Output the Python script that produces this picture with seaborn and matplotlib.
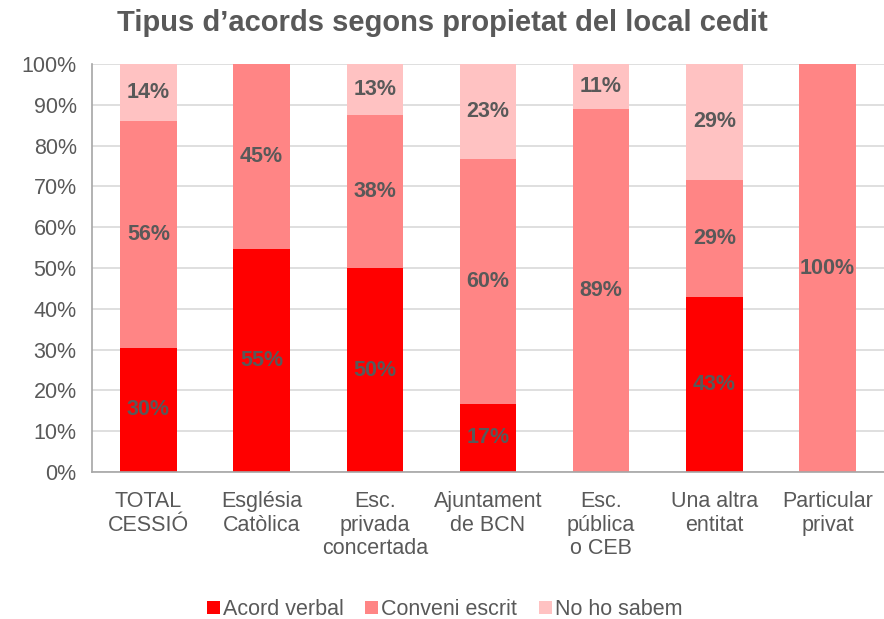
import numpy as np
import pandas as pd
import seaborn as sns
import matplotlib.pyplot as plt
from matplotlib.patches import Patch

# ---------------- Data ----------------
categories = ['TOTAL\nCESSIÓ', 'Església\nCatòlica', 'Esc.\nprivada\nconcertada',
              'Ajuntament\nde BCN', 'Esc.\npública\no CEB', 'Una altra\nentitat',
              'Particular\nprivat']
acord_verbal = [30.4, 54.55, 50.0, 16.7, 0.0, 42.9, 0.0]
conveni_escrit = [55.7, 45.45, 37.5, 60.0, 88.9, 28.6, 100.0]
no_ho_sabem = [13.9, 0.0, 12.5, 23.3, 11.1, 28.6, 0.0]
series_names = ['Acord verbal', 'Conveni escrit', 'No ho sabem']
colors = ['#FF0000', '#FF8585', '#FFC2C2']

df = pd.DataFrame({'cat': categories, 'verbal': acord_verbal,
                   'conveni': conveni_escrit, 'nosabem': no_ho_sabem})
df['c1'] = df['verbal']
df['c2'] = df['c1'] + df['conveni']
df['c3'] = df['c2'] + df['nosabem']

# ---------------- Plot ----------------
sns.set_style('white')
plt.rcParams['font.family'] = ['Liberation Sans', 'DejaVu Sans']
text_col = '#595959'

fig = plt.figure(figsize=(8.84, 6.19), dpi=100)
ax = fig.add_axes([0.104, 0.2375, 0.896, 0.659])

# stacked bars drawn from the top cumulative down
for col, color in zip(['c3', 'c2', 'c1'], colors[::-1]):
    sns.barplot(data=df, x='cat', y=col, color=color, width=0.5,
                saturation=1, ax=ax, zorder=2, order=categories, linewidth=0)

# segment labels (Excel-style half-up rounding)
for i, row in df.iterrows():
    base = 0
    for val in [row['verbal'], row['conveni'], row['nosabem']]:
        if val > 0:
            ax.text(i, base + val / 2, f'{int(val + 0.5)}%', ha='center', va='center',
                    fontsize=15.5, fontweight='bold', color=text_col, zorder=3)
        base += val

ax.set_ylim(0, 100)
ax.set_xlim(-0.5, len(categories) - 0.5)
ax.set_yticks(np.arange(0, 101, 10))
ax.set_yticklabels([f'{v}%' for v in range(0, 101, 10)])
ax.yaxis.grid(True, color='#D9D9D9', linewidth=1.2, zorder=0)
ax.set_axisbelow(True)
ax.set_xlabel('')
ax.set_ylabel('')

ax.set_xticks(range(len(categories)))
ax.set_xticklabels(categories, fontsize=15.5, color=text_col, linespacing=1.15)
ax.set_xticks(np.arange(-0.5, len(categories)), minor=True)
ax.tick_params(axis='x', which='major', length=0, pad=14)
ax.tick_params(axis='x', which='minor', length=6, color='#A6A6A6', width=1)
ax.tick_params(axis='y', length=6, color='#A6A6A6', width=1,
               labelsize=15.5, labelcolor=text_col, pad=5)

for side in ['top', 'right']:
    ax.spines[side].set_visible(False)
for side in ['left', 'bottom']:
    ax.spines[side].set_color('#A6A6A6')
    ax.spines[side].set_linewidth(1.2)

fig.suptitle('Tipus d’acords segons propietat del local cedit', x=0.5, y=0.985,
             fontsize=21, fontweight='bold', color=text_col)

handles = [Patch(facecolor=c, edgecolor='none') for c in colors]
fig.legend(handles, series_names, loc='lower center', bbox_to_anchor=(0.503, -0.033),
           ncol=3, frameon=False, fontsize=15.5, handlelength=0.6, handleheight=0.6,
           handletextpad=0.15, columnspacing=1.0, labelcolor=text_col)

plt.savefig('out.png', dpi=100)
